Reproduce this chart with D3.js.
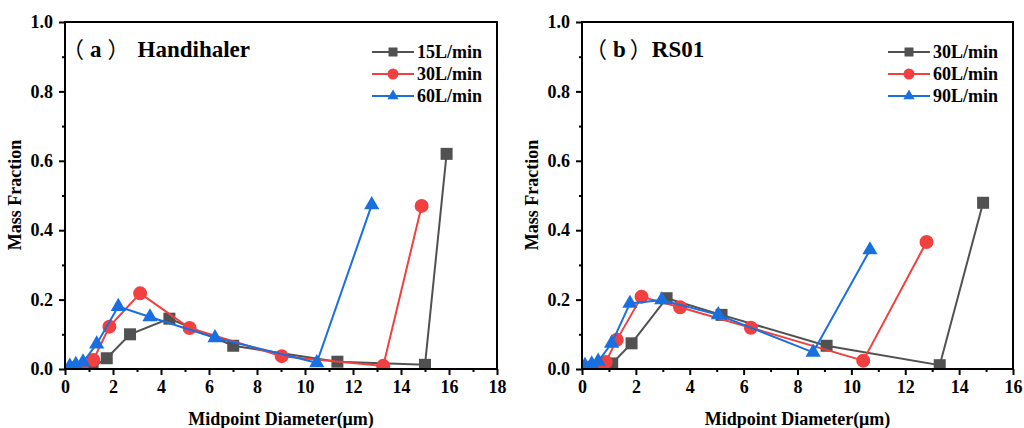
<!DOCTYPE html>
<html>
<head>
<meta charset="utf-8">
<script src="https://cdn.jsdelivr.net/npm/d3@7"></script>
<style>
  body { margin: 0; background: #fff; }
  text { font-family: "Liberation Serif", Tinos, "Times New Roman", Times, "DejaVu Serif", serif; font-weight: bold; }
  .cjk { font-family: "Noto Sans CJK SC", sans-serif; font-weight: normal; }
</style>
</head>
<body>
<svg width="1024" height="428"></svg>
<script>
// (a) Handihaler - midpoint diameter (um) / mass fraction
var xA15 = [0.6, 1.15, 1.74, 2.71, 4.35, 7.01, 11.35, 15.0, 15.9];
var yA15 = [0.003, 0.005, 0.031, 0.100, 0.145, 0.067, 0.021, 0.012, 0.620];
var xA30 = [0.35, 0.7, 1.18, 1.85, 3.13, 5.19, 9.03, 13.26, 14.86];
var yA30 = [0.003, 0.006, 0.026, 0.122, 0.218, 0.118, 0.037, 0.009, 0.470];
var xA60 = [0.2, 0.45, 0.75, 1.32, 2.22, 3.54, 6.25, 10.49, 12.78];
var yA60 = [0.008, 0.013, 0.020, 0.072, 0.180, 0.150, 0.090, 0.018, 0.473];

// (b) RS01
var xB30 = [0.45, 0.8, 1.12, 1.84, 3.14, 5.18, 9.08, 13.28, 14.89];
var yB30 = [0.003, 0.005, 0.016, 0.074, 0.204, 0.156, 0.067, 0.011, 0.479];
var xB60 = [0.3, 0.55, 0.88, 1.29, 2.21, 3.64, 6.27, 10.44, 12.79];
var yB60 = [0.004, 0.008, 0.020, 0.084, 0.208, 0.178, 0.119, 0.024, 0.366];
var xB90 = [0.11, 0.36, 0.6, 1.1, 1.78, 2.96, 5.06, 8.58, 10.69];
var yB90 = [0.010, 0.014, 0.022, 0.074, 0.189, 0.199, 0.156, 0.048, 0.343];

var legendA = ["15L/min", "30L/min", "60L/min"];
var legendB = ["30L/min", "60L/min", "90L/min"];
var yTicks = [0, 0.2, 0.4, 0.6, 0.8, 1.0];

var colors = ["#515151", "#F14040", "#1A6FDF"];
var shapes = [d3.symbolSquare, d3.symbolCircle, d3.symbolTriangle];
var sizes = [144, 154, 100];
var legendSizes = [81, 95, 55];

var svg = d3.select("svg");

function build_panel(p) {
    var x = d3.scaleLinear().domain([0, p.xmax]).range([p.left, p.right]);
    var y = d3.scaleLinear().domain([0, 1]).range([369, 22]);
    var g = svg.append("g");

    // clip data to the frame
    g.append("clipPath").attr("id", "clip" + p.id)
        .append("rect")
        .attr("x", p.left).attr("y", 22)
        .attr("width", p.right - p.left).attr("height", 347);

    var data = g.append("g").attr("clip-path", "url(#clip" + p.id + ")");
    var line = d3.line().x(function(d) { return x(d[0]); }).y(function(d) { return y(d[1]); });

    p.series.forEach(function(s, i) {
        var pts = d3.zip(s[0], s[1]);
        data.append("path")
            .datum(pts)
            .attr("d", line)
            .attr("fill", "none")
            .attr("stroke", colors[i])
            .attr("stroke-width", 2);
        data.selectAll(".m" + i)
            .data(pts)
            .enter().append("path")
            .attr("class", "m" + i)
            .attr("transform", function(d) { return "translate(" + x(d[0]) + "," + y(d[1]) + ")"; })
            .attr("d", d3.symbol().type(shapes[i]).size(sizes[i]))
            .attr("fill", colors[i]);
    });

    // frame
    g.append("rect")
        .attr("x", p.left).attr("y", 22)
        .attr("width", p.right - p.left).attr("height", 347)
        .attr("fill", "none").attr("stroke", "#000").attr("stroke-width", 2);

    // x axis
    g.append("g")
        .attr("transform", "translate(0,369)")
        .call(d3.axisBottom(x).tickValues(d3.range(0, p.xmax + 1, 2)).tickSize(6).tickPadding(5).tickFormat(d3.format("d")));
    g.append("g")
        .attr("transform", "translate(0,369)")
        .call(d3.axisBottom(x).tickValues(d3.range(1, p.xmax, 2)).tickSize(3).tickFormat(""));

    // y axis
    g.append("g")
        .attr("transform", "translate(" + p.left + ",0)")
        .call(d3.axisLeft(y).tickValues(yTicks).tickSize(6).tickPadding(6).tickFormat(d3.format(".1f")));
    g.append("g")
        .attr("transform", "translate(" + p.left + ",0)")
        .call(d3.axisLeft(y).tickValues([0.1, 0.3, 0.5, 0.7, 0.9]).tickSize(3).tickFormat(""));

    g.selectAll(".domain").remove();
    g.selectAll(".tick line").attr("stroke", "#000").attr("stroke-width", 2);
    g.selectAll(".tick text")
        .attr("font-size", 18)
        .attr("fill", "#000");

    // axis titles
    g.append("text")
        .attr("x", (p.left + p.right) / 2)
        .attr("y", 425)
        .attr("text-anchor", "middle")
        .attr("font-size", 18)
        .text("Midpoint Diameter(\u03bcm)");

    g.append("text")
        .attr("transform", "translate(" + (p.left - 44) + ",195) rotate(-90)")
        .attr("text-anchor", "middle")
        .attr("font-size", 18)
        .text("Mass Fraction");

    // panel title, full-width brackets from the CJK font
    var t = g.append("text")
        .attr("x", p.left + p.titleDx[0])
        .attr("y", 57)
        .attr("font-size", 23);
    t.append("tspan").attr("class", "cjk").attr("font-size", 22).text("\uff08");
    t.append("tspan").attr("dx", p.titleDx[1]).text(p.tag);
    t.append("tspan").attr("class", "cjk").attr("font-size", 22).attr("dx", p.titleDx[2]).text("\uff09");
    t.append("tspan").attr("dx", p.titleDx[3]).text(p.title);

    // legend
    var leg = g.selectAll(".leg")
        .data(p.legend)
        .enter().append("g")
        .attr("transform", function(d, i) { return "translate(" + p.legX + "," + (52 + i * 22) + ")"; });

    leg.append("line")
        .attr("x1", 0).attr("x2", 42)
        .attr("stroke", function(d, i) { return colors[i]; })
        .attr("stroke-width", 2);
    leg.append("path")
        .attr("transform", "translate(21,0)")
        .attr("d", function(d, i) { return d3.symbol().type(shapes[i]).size(legendSizes[i])(); })
        .attr("fill", function(d, i) { return colors[i]; });
    leg.append("text")
        .attr("x", 45)
        .attr("dy", "0.35em")
        .attr("font-size", 18)
        .text(function(d) { return d; });
}

build_panel({
    id: "a", left: 65, right: 497, xmax: 18,
    tag: "a", title: "Handihaler", titleDx: [-3, 6, 6, 8],
    legend: legendA, legX: 372,
    series: [[xA15, yA15], [xA30, yA30], [xA60, yA60]]
});

build_panel({
    id: "b", left: 582, right: 1013, xmax: 16,
    tag: "b", title: "RS01", titleDx: [3, 6, 4, 0],
    legend: legendB, legX: 888,
    series: [[xB30, yB30], [xB60, yB60], [xB90, yB90]]
});
</script>
</body>
</html>
